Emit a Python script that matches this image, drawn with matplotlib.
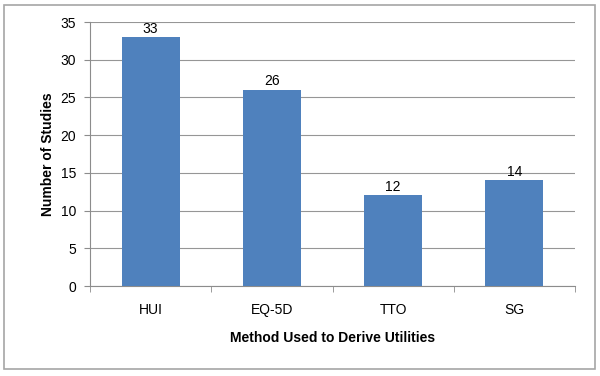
import matplotlib
matplotlib.use("Agg")
import matplotlib.pyplot as plt
from matplotlib.patches import Rectangle
import numpy as np

categories = ["HUI", "EQ-5D", "TTO", "SG"]
values = [33, 26, 12, 14]
yticks = [0, 5, 10, 15, 20, 25, 30, 35]

plt.rcParams['font.family'] = ['Liberation Sans', 'DejaVu Sans']

fig = plt.figure(figsize=(6, 3.76), dpi=100)
# outer border
fig.patches.append(Rectangle((4/600, 1-369/376), 591/600, 364/376, transform=fig.transFigure,
                             fill=False, edgecolor='#a6a6a6', linewidth=1.2))
ax = fig.add_axes([90/600, 1-286/376, 485/600, 264/376])

x = np.arange(len(categories))
bars = ax.bar(x, values, width=0.48, color='#4F81BD', zorder=3)
for xi, v in zip(x, values):
    ax.text(xi, v + 0.2, str(v), ha='center', va='bottom', fontsize=10)

ax.set_xlim(-0.5, len(categories) - 0.5)
ax.set_ylim(0, 35)
ax.set_yticks(yticks)
ax.yaxis.grid(True, color='#969696', linewidth=0.8, zorder=0)
ax.set_xticks(x)
ax.set_xticklabels(categories, fontsize=10)
ax.set_xticks(np.arange(-0.5, len(categories)), minor=True)
ax.tick_params(axis='x', which='major', length=0, pad=12)
ax.tick_params(axis='x', which='minor', length=4, color='#8c8c8c', direction='out')
ax.tick_params(axis='y', length=4, color='#8c8c8c', labelsize=10, pad=6)
for s in ['top', 'right']:
    ax.spines[s].set_visible(False)
ax.spines['left'].set_color('#8c8c8c')
ax.spines['bottom'].set_color('#8c8c8c')
ax.set_xlabel('Method Used to Derive Utilities', fontsize=10, fontweight='bold', labelpad=10)
ax.set_ylabel('Number of Studies', fontsize=10, fontweight='bold', labelpad=4)

fig.savefig('out.png', dpi=100)
